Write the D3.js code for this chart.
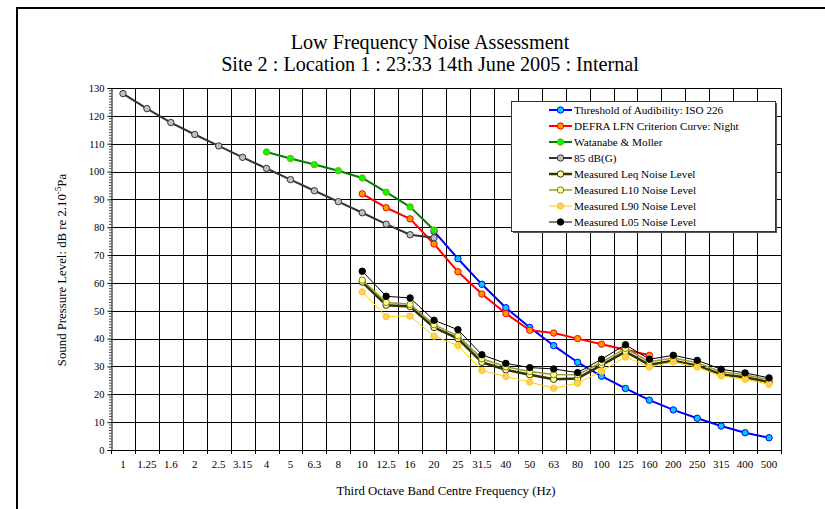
<!DOCTYPE html>
<html>
<head>
<meta charset="utf-8">
<script src="https://cdn.jsdelivr.net/npm/d3@7"></script>
<style>
  body { margin: 0; background: #fff; }
  text { font-family: "Liberation Serif", "Times New Roman", serif; fill: #000; }
</style>
</head>
<body>
<script>
// third octave band centre frequencies (Hz)
const freqs = ["1","1.25","1.6","2","2.5","3.15","4","5","6.3","8","10","12.5","16","20",
  "25","31.5","40","50","63","80","100","125","160","200","250","315","400","500"];

// values aligned to freqs, null where the curve has no point
const iso226 = [null,null,null,null,null,null,null,null,null,null,null,null,null,78.5,
  68.7,59.5,51.1,44.0,37.5,31.5,26.5,22.1,17.9,14.4,11.4,8.6,6.2,4.4];
const defraNight = [null,null,null,null,null,null,null,null,null,null,92,87,83,74,
  64,56,49,43,42,40,38,36,34,null,null,null,null,null];
const watanabe = [null,null,null,null,null,null,107,104.7,102.5,100.3,97.7,92.6,87.3,79,
  null,null,null,null,null,null,null,null,null,null,null,null,null,null];
const dbG85 = [128,122.6,117.6,113.3,109.2,105.1,101.1,97.1,93.1,89.2,85.2,81.1,77.3,76.2,
  null,null,null,null,null,null,null,null,null,null,null,null,null,null];
const leq = [null,null,null,null,null,null,null,null,null,null,60.3,52,51.5,44,
  40,31.5,28.8,27,25.4,25.7,30.5,35.3,30.6,32.1,30.3,27.1,26.1,24.4];
const l10 = [null,null,null,null,null,null,null,null,null,null,61,53,52.3,45,
  41,32.8,29.9,28.2,27.1,27,31.5,36.5,31.7,33,31.3,28.1,27,25.2];
const l90 = [null,null,null,null,null,null,null,null,null,null,56.8,47.9,48.1,40.9,
  37.5,28.6,26.4,24.4,22.2,24,28.3,33.4,29.8,31.6,29.8,26.6,25.4,23.6];
const l05 = [null,null,null,null,null,null,null,null,null,null,64.2,55.2,54.6,46.6,
  43.2,34.2,31.1,29.6,29.1,27.8,32.6,37.8,32.6,34,32.2,29,27.7,25.9];

const seriesNames = ["Threshold of Audibility: ISO 226","DEFRA LFN Criterion Curve: Night",
  "Watanabe & Moller","85 dB(G)","Measured Leq Noise Level","Measured L10 Noise Level",
  "Measured L90 Noise Level","Measured L05 Noise Level"];
const seriesValues = [iso226, defraNight, watanabe, dbG85, leq, l10, l90, l05];

// line colour, line width, marker fill, marker stroke
const styles = [
  { line: "#0000ff", w: 2,   fill: "#00ccff", stroke: "#0000ff" },
  { line: "#ff0000", w: 2,   fill: "#ff9900", stroke: "#ff0000" },
  { line: "#008000", w: 2,   fill: "#00ff00", stroke: "#999900" },
  { line: "#333333", w: 2,   fill: "#c0c0c0", stroke: "#333333" },
  { line: "#333300", w: 2.5, fill: "#ffff99", stroke: "#333300" },
  { line: "#999933", w: 1.5, fill: "#ffff99", stroke: "#808000" },
  { line: "#ffcc00", w: 1,   fill: "#ffcc66", stroke: "#ffcc00" },
  { line: "#000000", w: 1,   fill: "#000000", stroke: "#000000" }
];

const width = 825, height = 509;
const plotLeft = 111, plotRight = 781, plotTop = 88, plotBottom = 450;

const svg = d3.select("body").append("svg")
    .attr("width", width)
    .attr("height", height);

// outer chart frame (runs off the page right and bottom)
svg.append("rect")
    .attr("x", 17).attr("y", 8)
    .attr("width", 840).attr("height", 520)
    .attr("fill", "#fff")
    .attr("stroke", "#000")
    .attr("stroke-width", 2);

const x = d3.scaleBand().domain(freqs).range([plotLeft, plotRight]);
const y = d3.scaleLinear().domain([0, 130]).range([plotBottom, plotTop]);
const cx = d => x(d) + x.bandwidth() / 2;

// titles
svg.append("text")
    .attr("x", 430).attr("y", 49)
    .attr("text-anchor", "middle")
    .attr("font-size", 20.2)
    .text("Low Frequency Noise Assessment");
svg.append("text")
    .attr("x", 430).attr("y", 71)
    .attr("text-anchor", "middle")
    .attr("font-size", 20.2)
    .text("Site 2 : Location 1 : 23:33 14th June 2005 : Internal");

// grid
const grid = svg.append("g").attr("stroke", "#000").attr("stroke-width", 1);
grid.selectAll("line.h")
    .data(d3.range(10, 140, 10))
    .join("line")
    .attr("x1", plotLeft).attr("x2", plotRight)
    .attr("y1", d => Math.round(y(d)) + 0.5)
    .attr("y2", d => Math.round(y(d)) + 0.5);
const vx = d => d === "end" ? plotRight + 0.5 : Math.round(x(d)) + 0.5;
grid.selectAll("line.v")
    .data(freqs.slice(1).concat(["end"]))
    .join("line")
    .attr("x1", vx).attr("x2", vx)
    .attr("y1", plotTop).attr("y2", plotBottom);

// y axis
const yAxis = svg.append("g")
    .attr("transform", `translate(${plotLeft + 0.5},0)`)
    .call(d3.axisLeft(y).tickValues(d3.range(0, 140, 10)).tickSize(4).tickPadding(3));
yAxis.selectAll("text").attr("font-size", 10.5).attr("font-family", "Liberation Serif");
yAxis.select(".domain").attr("stroke", "#000");
// minor ticks every 1 dB
yAxis.selectAll("line.minor")
    .data(d3.range(0, 131, 1).filter(d => d % 10 !== 0))
    .join("line")
    .attr("class", "minor")
    .attr("x1", -2.5).attr("x2", 0)
    .attr("y1", d => y(d)).attr("y2", d => y(d))
    .attr("stroke", "#000").attr("stroke-width", 0.7);

// x axis: ticks sit on the band edges, labels in band centres
const xg = svg.append("g");
xg.append("line")
    .attr("x1", plotLeft).attr("x2", plotRight + 1)
    .attr("y1", plotBottom + 0.5).attr("y2", plotBottom + 0.5)
    .attr("stroke", "#000");
xg.selectAll("line.tick")
    .data(freqs.concat(["end"]))
    .join("line")
    .attr("class", "tick")
    .attr("x1", vx).attr("x2", vx)
    .attr("y1", plotBottom).attr("y2", plotBottom + 4)
    .attr("stroke", "#000");
xg.selectAll("text")
    .data(freqs)
    .join("text")
    .attr("x", d => cx(d))
    .attr("y", plotBottom + 18)
    .attr("text-anchor", "middle")
    .attr("font-size", 11)
    .text(d => d);

// axis titles
svg.append("text")
    .attr("x", 446).attr("y", 495)
    .attr("text-anchor", "middle")
    .attr("font-size", 12.8)
    .text("Third Octave Band Centre Frequency (Hz)");
const yt = svg.append("text")
    .attr("transform", "translate(66,270) rotate(-90)")
    .attr("text-anchor", "middle")
    .attr("font-size", 12.8);
yt.append("tspan").text("Sound Pressure Level: dB re 2.10");
yt.append("tspan").attr("dy", -5).attr("font-size", 9).text("-5");
yt.append("tspan").attr("dy", 5).text("Pa");

// series
const line = d3.line()
    .defined(d => d.v !== null)
    .x(d => cx(d.f))
    .y(d => y(d.v));

const plot = svg.append("g");
seriesValues.forEach((vals, i) => {
    const pts = vals.map((v, j) => ({ f: freqs[j], v: v }));
    const s = styles[i];
    const g = plot.append("g");
    g.append("path")
        .datum(pts)
        .attr("fill", "none")
        .attr("stroke", s.line)
        .attr("stroke-width", s.w)
        .attr("stroke-linejoin", "round")
        .attr("d", line);
    g.selectAll("circle")
        .data(pts.filter(d => d.v !== null))
        .join("circle")
        .attr("cx", d => cx(d.f))
        .attr("cy", d => y(d.v))
        .attr("r", 3.2)
        .attr("fill", s.fill)
        .attr("stroke", s.stroke)
        .attr("stroke-width", 1);
});

// legend
const lg = svg.append("g").attr("transform", "translate(511,101)");
lg.append("rect")
    .attr("x", 2).attr("y", 2)
    .attr("width", 264).attr("height", 130)
    .attr("fill", "#555");
lg.append("rect")
    .attr("x", 0.5).attr("y", 0.5)
    .attr("width", 264).attr("height", 130)
    .attr("fill", "#fff")
    .attr("stroke", "#333");
const items = lg.selectAll("g.item")
    .data(seriesNames)
    .join("g")
    .attr("class", "item")
    .attr("transform", (d, i) => `translate(0,${9 + i * 16})`);
items.append("line")
    .attr("x1", 38).attr("x2", 61)
    .attr("stroke", (d, i) => styles[i].line)
    .attr("stroke-width", (d, i) => styles[i].w);
items.append("circle")
    .attr("cx", 49.5).attr("r", 3.2)
    .attr("fill", (d, i) => styles[i].fill)
    .attr("stroke", (d, i) => styles[i].stroke);
items.append("text")
    .attr("x", 63).attr("dy", "0.35em")
    .attr("font-size", 11.2)
    .text(d => d);
</script>
</body>
</html>
